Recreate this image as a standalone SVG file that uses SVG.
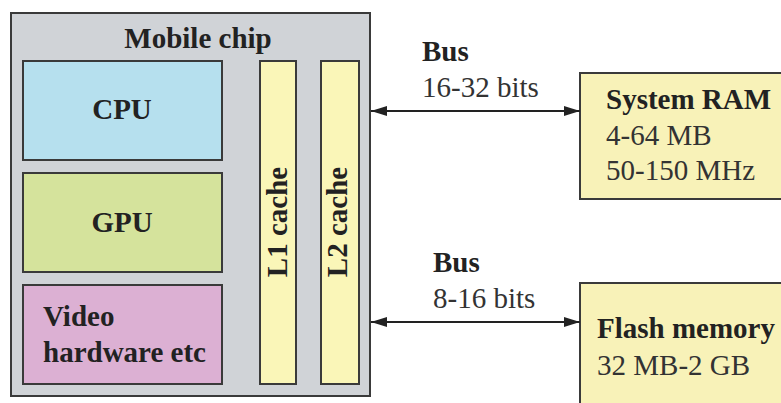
<svg xmlns="http://www.w3.org/2000/svg" width="781" height="403" viewBox="0 0 781 403">
<style>
.box{stroke:#3a3a3a;stroke-width:2}
.b{font-family:"Liberation Serif","Times New Roman",serif;font-weight:bold;font-size:29px;fill:#222}
.r{font-family:"Liberation Serif","Times New Roman",serif;font-size:29px;fill:#333}
.conn{stroke:#222;stroke-width:2;fill:none}
</style>
<defs>
<marker id="ah" viewBox="0 0 16 10" refX="16" refY="5" markerWidth="16" markerHeight="10" markerUnits="userSpaceOnUse" orient="auto-start-reverse">
<path d="M0,0 L16,5 L0,10 Z" fill="#222"/>
</marker>
</defs>
<rect width="781" height="403" fill="#ffffff"/>
<g id="mobile-chip">
<rect class="box" x="11" y="13" width="359" height="383" fill="#d0d3d7"/>
<text class="b" x="198" y="48" text-anchor="middle">Mobile chip</text>
</g>
<g id="cpu">
<rect class="box" x="23" y="61" width="199" height="99" fill="#b6e0ee"/>
<text class="b" x="122" y="119" text-anchor="middle">CPU</text>
</g>
<g id="gpu">
<rect class="box" x="23" y="173" width="199" height="99" fill="#d5e39c"/>
<text class="b" x="122" y="232" text-anchor="middle">GPU</text>
</g>
<g id="video">
<rect class="box" x="23" y="285" width="199" height="99" fill="#dcb0d3"/>
<text class="b" x="43" y="326">Video</text>
<text class="b" x="43" y="362">hardware etc</text>
</g>
<g id="l1-cache">
<rect class="box" x="260" y="61" width="36" height="323" fill="#faf6b8"/>
<text class="b" transform="translate(287,222) rotate(-90)" text-anchor="middle">L1 cache</text>
</g>
<g id="l2-cache">
<rect class="box" x="321" y="61" width="38" height="323" fill="#faf6b8"/>
<text class="b" transform="translate(347,222) rotate(-90)" text-anchor="middle">L2 cache</text>
</g>
<g id="system-ram">
<rect class="box" x="580" y="73" width="215" height="126" fill="#f8f2b8"/>
<text class="b" x="606" y="109">System RAM</text>
<text class="r" x="606" y="145">4-64 MB</text>
<text class="r" x="606" y="180">50-150 MHz</text>
</g>
<g id="flash-memory">
<rect class="box" x="580" y="283" width="215" height="130" fill="#f8f2b8"/>
<text class="b" x="597" y="338">Flash memory</text>
<text class="r" x="597" y="375">32 MB-2 GB</text>
</g>
<g id="connectors">
<line class="conn" x1="371" y1="111" x2="580" y2="111" marker-start="url(#ah)" marker-end="url(#ah)"/>
<line class="conn" x1="371" y1="322" x2="580" y2="322" marker-start="url(#ah)" marker-end="url(#ah)"/>
<text class="b" x="422" y="61">Bus</text>
<text class="r" x="422" y="97">16-32 bits</text>
<text class="b" x="433" y="272">Bus</text>
<text class="r" x="433" y="308">8-16 bits</text>
</g>
</svg>
